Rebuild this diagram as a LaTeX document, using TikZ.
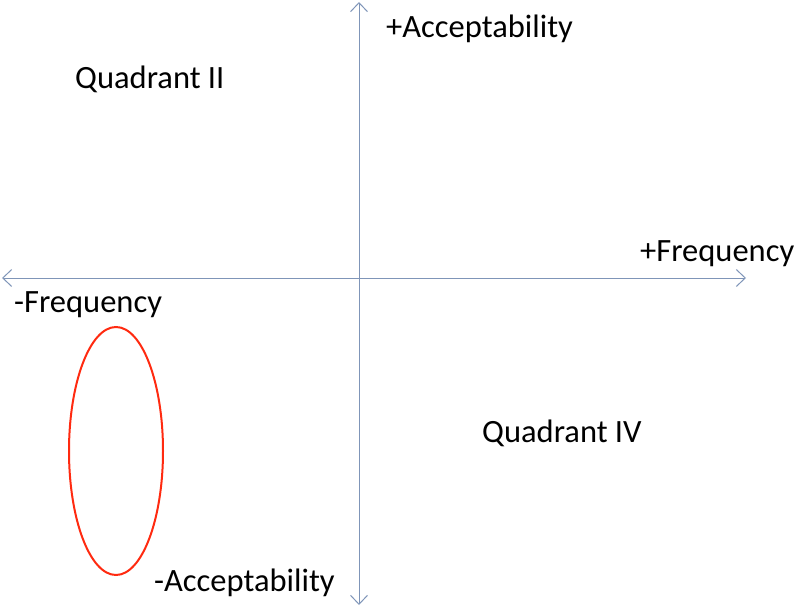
\documentclass[tikz,border=0pt]{standalone}
\usepackage{fontspec}
\setmainfont{Carlito}
\usetikzlibrary{arrows.meta,shapes.geometric}
\definecolor{axis}{HTML}{7F95B8}
\definecolor{ring}{HTML}{FF2A10}
\tikzset{
  axisline/.style={draw=axis, line width=1pt, -{Straight Barb[length=9pt,width=17pt]}, shorten >=0pt},
  lbl/.style={anchor=west, inner sep=0pt, font=\fontsize{32.5}{38}\selectfont},
  ringstyle/.style={ellipse, draw=ring, line width=2pt, minimum width=94pt, minimum height=248pt, inner sep=0pt}
}
\begin{document}
\begin{tikzpicture}[x=1pt,y=-1pt]
\useasboundingbox (0,0) rectangle (796,607);
\coordinate (c) at (359,278);
\coordinate (top) at (359,2);
\coordinate (bot) at (359,605);
\coordinate (lft) at (2,278);
\coordinate (rgt) at (746,278);
\draw[axisline] (c) -- (top);
\draw[axisline] (c) -- (bot);
\draw[axisline] (c) -- (lft);
\draw[axisline] (c) -- (rgt);
\node[lbl] (pa) at (386,29) {+Acceptability};
\node[lbl] (q2) at (75,79) {Quadrant II};
\node[lbl] (pf) at (640,254) {+Frequency};
\node[lbl] (mf) at (14,305) {-Frequency};
\node[lbl] (q4) at (482,433) {Quadrant IV};
\node[lbl] (ma) at (154,583) {-Acceptability};
\node[ringstyle] (ov) at (116,451) {};
\end{tikzpicture}
\end{document}
